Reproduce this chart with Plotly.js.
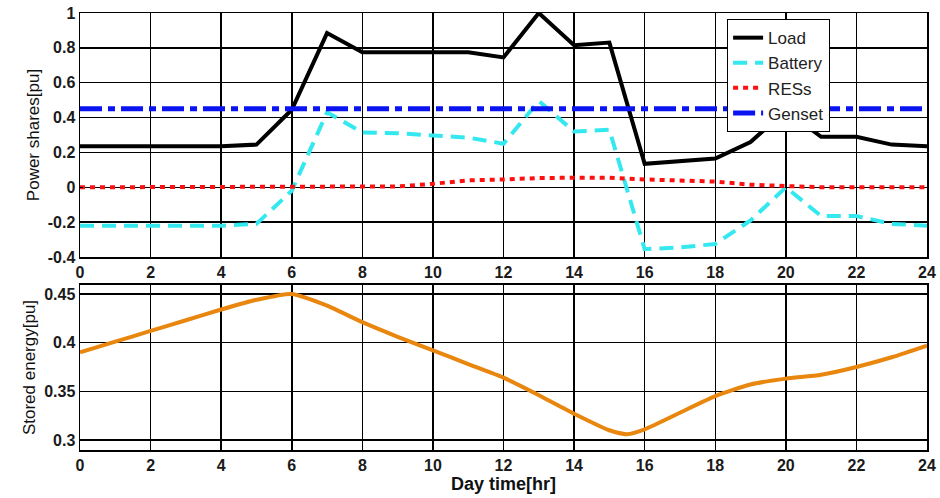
<!DOCTYPE html>
<html>
<head>
<meta charset="utf-8">
<script src="https://cdn.plot.ly/plotly-3.0.1.min.js"></script>
<style>html,body{margin:0;padding:0;background:#fff;}#chart{width:940px;height:498px;}</style>
</head>
<body>
<div id="chart"></div>
<script>
// Hours of day
const hours = [0,1,2,3,4,5,6,7,8,9,10,11,12,13,14,15,16,17,18,19,20,21,22,23,24];
// Power shares [pu]
const loadVals    = [0.235,0.235,0.235,0.235,0.235,0.245,0.445,0.885,0.775,0.775,0.775,0.775,0.745,1.0,0.815,0.83,0.135,0.15,0.165,0.26,0.44,0.29,0.29,0.245,0.235];
const batteryVals = [-0.22,-0.22,-0.22,-0.22,-0.22,-0.21,-0.02,0.43,0.315,0.31,0.30,0.285,0.25,0.495,0.32,0.33,-0.355,-0.345,-0.325,-0.19,0.0,-0.165,-0.165,-0.21,-0.22];
const resVals     = [0,0,0,0,0,0,0,0,0,0.005,0.02,0.04,0.045,0.053,0.055,0.055,0.045,0.038,0.033,0.015,0.005,0,0,0,0];
const gensetVals  = [0.45,0.45,0.45,0.45,0.45,0.45,0.45,0.45,0.45,0.45,0.45,0.45,0.45,0.45,0.45,0.45,0.45,0.45,0.45,0.45,0.45,0.45,0.45,0.45,0.45];
// Stored energy [pu]
const energyHours = [0,1,2,3,4,5,6,7,8,9,10,11,12,13,14,15,15.5,16,17,18,19,20,21,22,23,24];
const energyVals  = [0.390,0.401,0.412,0.423,0.434,0.444,0.450,0.438,0.421,0.406,0.392,0.378,0.364,0.346,0.327,0.310,0.306,0.311,0.328,0.345,0.357,0.363,0.367,0.375,0.385,0.397];
const xTicks = [0,2,4,6,8,10,12,14,16,18,20,22,24];
const xTickText = ['0','2','4','6','8','10','12','14','16','18','20','22','24'];
const yTicksTop = [-0.4,-0.2,0,0.2,0.4,0.6,0.8,1];
const yTickTextTop = ['-0.4','-0.2','0','0.2','0.4','0.6','0.8','1'];
const yTicksBot = [0.3,0.35,0.4,0.45];
const yTickTextBot = ['0.3','0.35','0.4','0.45'];

const bold = arr => arr.map(s => '<b>' + s + '</b>');

const traces = [
  {x: hours, y: loadVals, name: 'Load', mode: 'lines', line: {color: '#000000', width: 4}, xaxis: 'x', yaxis: 'y'},
  {x: hours, y: batteryVals, name: 'Battery', mode: 'lines', line: {color: '#33e8ee', width: 4, dash: '14px,8px'}, xaxis: 'x', yaxis: 'y'},
  {x: hours, y: resVals, name: 'RESs', mode: 'lines', line: {color: '#ff1010', width: 4, dash: '5px,5px'}, xaxis: 'x', yaxis: 'y'},
  {x: hours, y: gensetVals, name: 'Genset', mode: 'lines', line: {color: '#0a14f0', width: 5, dash: '22px,6px,7px,6px'}, xaxis: 'x', yaxis: 'y'},
  {x: energyHours, y: energyVals, name: 'Stored energy', mode: 'lines', showlegend: false, line: {color: '#e8860e', width: 4, shape: 'spline', smoothing: 0.6}, xaxis: 'x2', yaxis: 'y2'}
];

const tickFont = {family: 'Liberation Sans, Arial, sans-serif', size: 16, color: '#1a1a1a'};
const axisCommon = {
  showgrid: true, gridcolor: '#000', gridwidth: 1.5,
  showline: true, linecolor: '#000', linewidth: 1.5, mirror: true,
  ticks: 'inside', ticklen: 3, tickcolor: '#000',
  zeroline: false, tickfont: tickFont
};

const layout = {
  width: 940, height: 498,
  margin: {l: 80, r: 13, t: 13, b: 48},
  paper_bgcolor: '#fff', plot_bgcolor: '#fff',
  showlegend: true,
  legend: {
    x: 0.764, y: 0.986, xanchor: 'left', yanchor: 'top',
    bgcolor: '#fff', bordercolor: '#000', borderwidth: 1,
    font: {family: 'Liberation Sans, Arial, sans-serif', size: 17, color: '#222'},
    tracegroupgap: 0
  },
  xaxis: Object.assign({}, axisCommon, {domain: [0,1], range: [0,24], tickvals: xTicks, ticktext: bold(xTickText), anchor: 'y'}),
  yaxis: Object.assign({}, axisCommon, {domain: [0.4416,1], range: [-0.4,1], tickvals: yTicksTop, ticktext: bold(yTickTextTop), anchor: 'x',
    title: {text: 'Power shares[pu]', font: {family: 'Liberation Sans, Arial, sans-serif', size: 17, color: '#111'}, standoff: 4}}),
  xaxis2: Object.assign({}, axisCommon, {domain: [0,1], range: [0,24], tickvals: xTicks, ticktext: bold(xTickText), anchor: 'y2',
    title: {text: '<b>Day time[hr]</b>', font: {family: 'Liberation Sans, Arial, sans-serif', size: 18, color: '#111'}, standoff: 2}}),
  yaxis2: Object.assign({}, axisCommon, {domain: [0,0.3776], range: [0.2897,0.4592], tickvals: yTicksBot, ticktext: bold(yTickTextBot), anchor: 'x2',
    title: {text: 'Stored energy[pu]', font: {family: 'Liberation Sans, Arial, sans-serif', size: 17, color: '#111'}, standoff: 4}})
};

Plotly.newPlot('chart', traces, layout, {displayModeBar: false, staticPlot: true});
</script>
</body>
</html>
